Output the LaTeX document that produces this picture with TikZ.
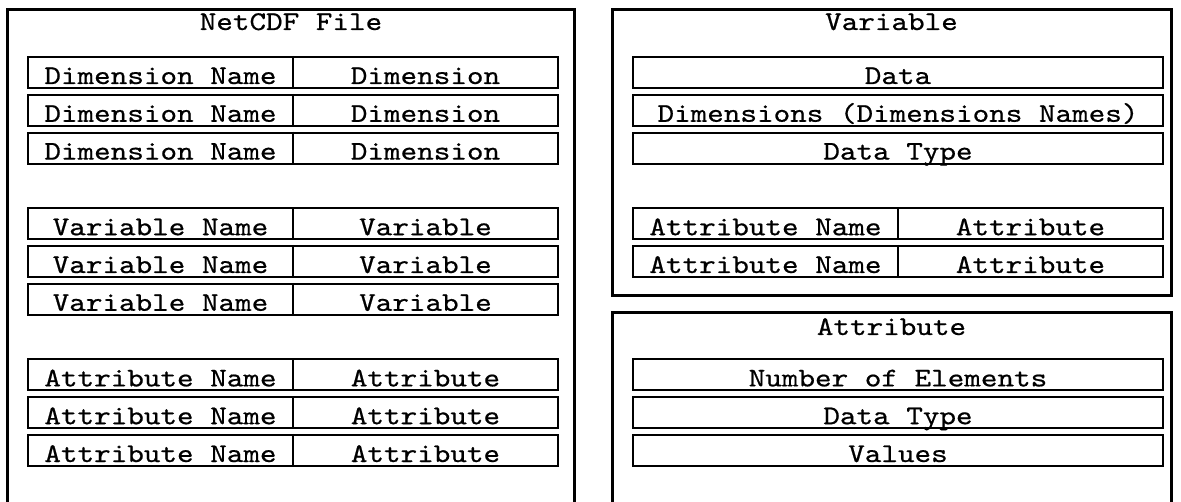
\documentclass[tikz,border=0pt]{standalone}
\usepackage{fontspec}
% typewriter face, a little wider and heavier than its natural cut
\setmonofont{lmmono10-regular.otf}[FakeStretch=1.17, FakeBold=0.6]
\tikzset{
  frame/.style={line width=3pt},
  rowbox/.style={draw, line width=2pt, rectangle, inner sep=0pt,
                 minimum width=530pt, minimum height=31pt, anchor=north west},
  divider/.style={line width=2.5pt},
  label/.style={font=\fontsize{27}{27}\selectfont\ttfamily, inner sep=0pt, anchor=base},
}
% a row split in two cells: name, left x, top y, left text, right text
\newcommand\pairrow[5]{%
  \node[rowbox] (#1) at (#2,#3) {};
  \draw[divider] (#1.north) -- (#1.south);
  \node[label] (#1-l) at ([xshift=-132.5pt,yshift=5pt]#1.south) {#4};
  \node[label] (#1-r) at ([xshift=132.5pt,yshift=5pt]#1.south) {#5};
}
% a row with one cell: name, left x, top y, text
\newcommand\fullrow[4]{%
  \node[rowbox] (#1) at (#2,#3) {};
  \node[label] (#1-t) at ([yshift=5pt]#1.south) {#4};
}
\begin{document}
\begin{tikzpicture}[x=1pt,y=-1pt]
\useasboundingbox (0,0) rectangle (1181,502);

% NetCDF file
\draw[frame] (7.5,502) -- (7.5,10) -- (574,10) -- (574,502);
\node[label] (fileTitle) at (291,30) {NetCDF File};
\pairrow{dimA}{27}{56}{Dimension Name}{Dimension}
\pairrow{dimB}{27}{93.8}{Dimension Name}{Dimension}
\pairrow{dimC}{27}{131.6}{Dimension Name}{Dimension}
\pairrow{varA}{27}{207.2}{Variable Name}{Variable}
\pairrow{varB}{27}{245}{Variable Name}{Variable}
\pairrow{varC}{27}{282.8}{Variable Name}{Variable}
\pairrow{attA}{27}{358.4}{Attribute Name}{Attribute}
\pairrow{attB}{27}{396.2}{Attribute Name}{Attribute}
\pairrow{attC}{27}{434}{Attribute Name}{Attribute}

% Variable
\draw[frame] (612,10) rectangle (1171,296);
\node[label] (varTitle) at (891.5,30) {Variable};
\fullrow{vData}{632}{56}{Data}
\fullrow{vDims}{632}{93.8}{Dimensions (Dimensions Names)}
\fullrow{vType}{632}{131.6}{Data Type}
\pairrow{vAttA}{632}{207.2}{Attribute Name}{Attribute}
\pairrow{vAttB}{632}{245}{Attribute Name}{Attribute}

% Attribute
\draw[frame] (612,502) -- (612,313) -- (1171,313) -- (1171,502);
\node[label] (attTitle) at (891.5,335) {Attribute};
\fullrow{aNum}{632}{358.4}{Number of Elements}
\fullrow{aType}{632}{396.2}{Data Type}
\fullrow{aVals}{632}{434}{Values}
\end{tikzpicture}
\end{document}
